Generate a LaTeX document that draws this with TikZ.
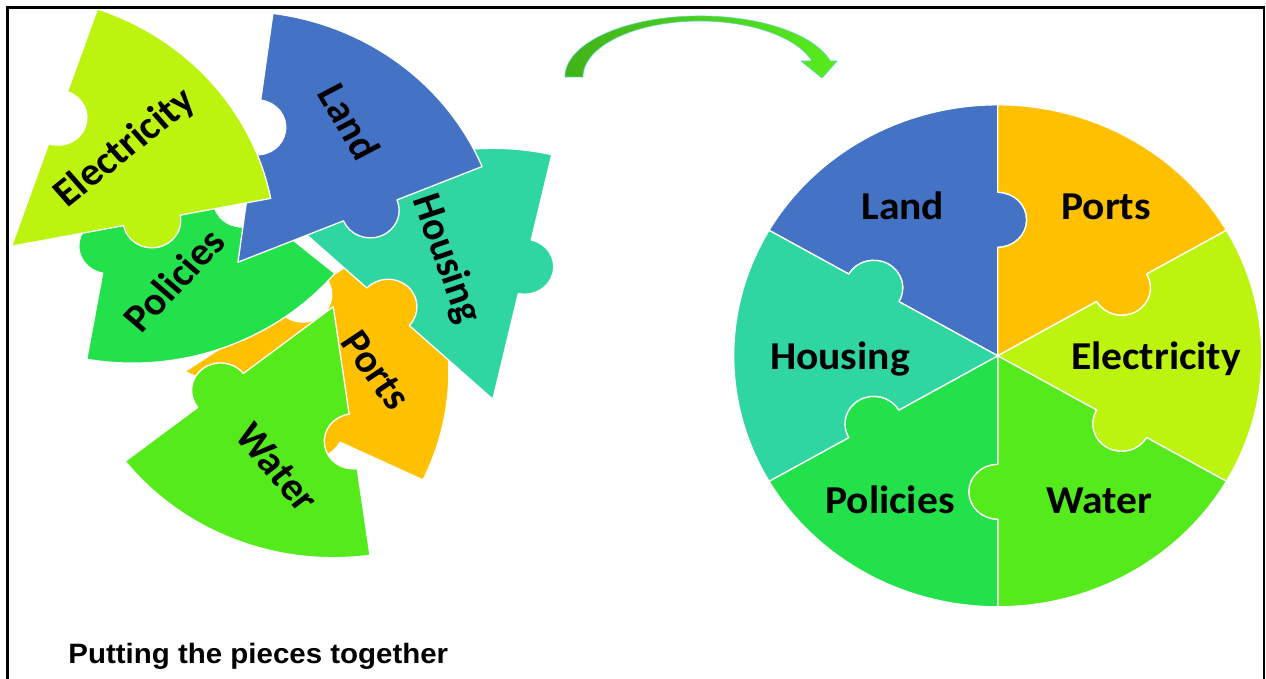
\documentclass[tikz,border=0pt]{standalone}
\usepackage{fontspec}
\newfontfamily\carl{Carlito}
\newfontfamily\arl{Liberation Sans}
\definecolor{cland}{HTML}{4472C4}
\definecolor{cports}{HTML}{FFC000}
\definecolor{celec}{HTML}{BCF30F}
\definecolor{cwater}{HTML}{54EA1B}
\definecolor{cpol}{HTML}{23E14A}
\definecolor{chous}{HTML}{30D6A2}
\definecolor{arrowL}{HTML}{42B21A}
\definecolor{arrowR}{HTML}{58EC1C}
\definecolor{arrowE}{HTML}{55D6B0}
\tikzset{
  piece/.pic={\path[pic actions] (0,0) -- (108.5,0) arc[start angle=180,end angle=360,radius=27.5]
     -- (251,0) arc[start angle=0,end angle=60,radius=251]
     -- (60:163.5) arc[start angle=60,end angle=-120,radius=27.5] -- cycle;},
  pc/.style={transform shape, draw=white, line width=1.3pt, line join=round},
  lbl/.style={font=\carl\bfseries\fontsize{39.5}{40}\selectfont, inner sep=0pt,
     text height=25pt, text depth=0pt, transform shape},
}
\begin{document}
\begin{tikzpicture}[x=1pt,y=1pt]
\useasboundingbox (0,0) rectangle (1266,678);
\fill[white] (0,0) rectangle (1266,678);
\begin{scope}[xscale=1.052]
  % assembled circle
  \pic[pc, fill=cland,  rotate=90]   at (948.4,322.2) {piece};
  \pic[pc, fill=cports, rotate=30]   at (948.4,322.2) {piece};
  \pic[pc, fill=celec,  rotate=-30]  at (948.4,322.2) {piece};
  \pic[pc, fill=cwater, rotate=-90]  at (948.4,322.2) {piece};
  \pic[pc, fill=cpol,   rotate=-150] at (948.4,322.2) {piece};
  \pic[pc, fill=chous,  rotate=150]  at (948.4,322.2) {piece};
  \node[lbl] (aLand)  at (858.2,470.5) {Land};
  \node[lbl] (aPorts) at (1051.3,470.5) {Ports};
  \node[lbl] (aHous)  at (798.3,320.9) {Housing};
  \node[lbl] (aElec)  at (1098.9,320.9) {Electricity};
  \node[lbl] (aPol)   at (846,177.2) {Policies};
  \node[lbl] (aWater) at (1045.2,177.2) {Water};
  % scattered pieces (bottom to top)
  \pic[pc, fill=cports, rotate=-25.6] at (175.7,306.5) {piece};
  \node[lbl, rotate=-54.9] (sPorts) at (357,307.5) {Ports};
  \pic[pc, fill=cpol, rotate=-100] at (126,565.9) {piece};
  \node[lbl, rotate=47.9] (sPol) at (166.2,397.4) {Policies};
  \pic[pc, fill=cwater, rotate=-142] at (316.8,371.3) {piece};
  \node[lbl, rotate=-51] (sWater) at (263,210.5) {Water};
  \pic[pc, fill=chous, rotate=77.1] at (468.5,278.7) {piece};
  \node[lbl, rotate=-70.4] (sHous) at (425.8,420) {Housing};
  \pic[pc, fill=cland, rotate=22.4] at (226.2,415.8) {piece};
  \node[lbl, rotate=-61.1] (sLand) at (331.1,555.8) {Land};
  \pic[pc, fill=celec, rotate=11] at (10.9,431.7) {piece};
  \node[lbl, rotate=40] (sElec) at (117.5,531) {Electricity};
  % caption
  \node[anchor=base west, inner sep=0pt, transform shape,
        font=\arl\bfseries\fontsize{28}{30}\selectfont] (cap) at (64.9,14.7) {Putting the pieces together};
\end{scope}
% curved arrow
\path[left color=arrowL, right color=arrowR, draw=arrowE, line width=0.6pt, line join=round]
  (565,601) arc[start angle=180, end angle=15.2, x radius=135, y radius=61]
  -- (837,617) -- (822,600) -- (801,617) -- (812,617)
  arc[start angle=16.6, end angle=180, x radius=117, y radius=56] -- cycle;
% frame
\draw[line width=2.5pt] (7.3,670.7) rectangle (1264,-20);
\end{tikzpicture}
\end{document}
